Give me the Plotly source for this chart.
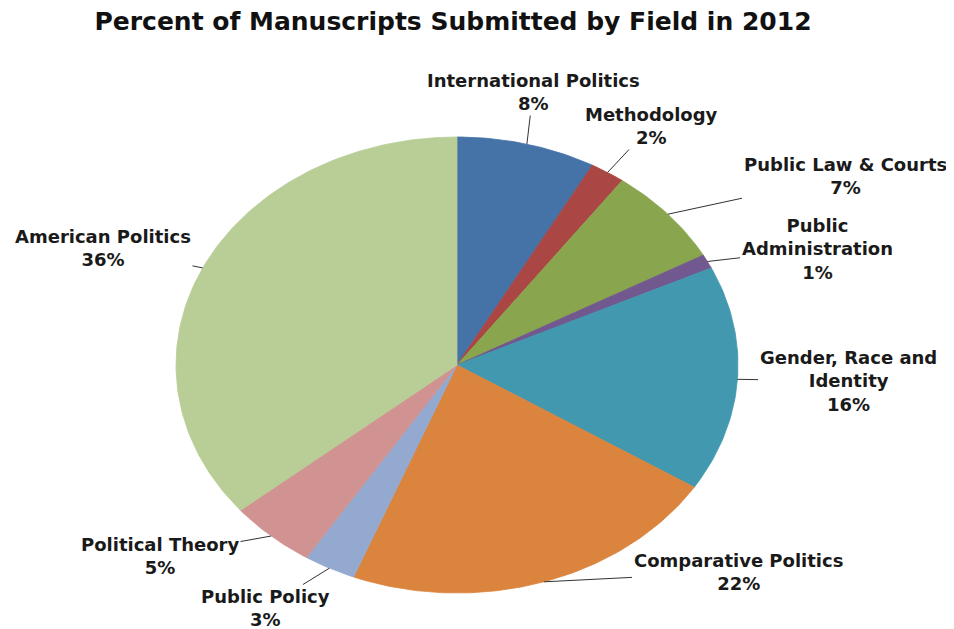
import numpy as np
import plotly.graph_objects as go

# ---- data ----
fields = ["International Politics", "Methodology", "Public Law & Courts",
          "Public Administration", "Gender, Race and Identity",
          "Comparative Politics", "Public Policy", "Political Theory",
          "American Politics"]
percents = [8, 2, 7, 1, 16, 22, 3, 5, 36]

# ---- style / layout ----
colors = ["#4572A7", "#AA4643", "#89A54E", "#71588F", "#4198AF",
          "#DB843D", "#93A9CF", "#D19392", "#B9CD96"]
wrapped = {"Public Administration": "Public<br>Administration",
           "Gender, Race and Identity": "Gender, Race and<br>Identity"}
# label text-block centres in page pixels
label_pos = [(533, 92), (651, 126), (845, 176), (817, 249), (848, 381),
             (738, 572), (265, 608), (160, 556), (103, 248)]

W, H = 954, 629
OFF = 8  # page body margin offset
CX, CY, RX, RY = 457 - OFF, 365 - OFF, 281, 228  # ellipse centre & radii


def px2d(px, py):
    return (px - OFF - CX) / RX, (CY - (py - OFF)) / RY


fig = go.Figure()
total = float(sum(percents))
cum = 0.0
annotations = []
for name, v, col, (lx, ly) in zip(fields, percents, colors, label_pos):
    a0 = cum / total * 2 * np.pi
    a1 = (cum + v) / total * 2 * np.pi
    cum += v
    t = np.linspace(a0, a1, max(int(v * 4), 6))
    xs = np.concatenate([[0], np.sin(t), [0]])
    ys = np.concatenate([[0], np.cos(t), [0]])
    fig.add_trace(go.Scatter(
        x=xs, y=ys, mode="lines", fill="toself", fillcolor=col,
        line=dict(color=col, width=0.8), hoveron="fills",
        name=name, text=f"{name}: {v}%", hoverinfo="text"))
    mid = (a0 + a1) / 2
    ax, ay = px2d(lx, ly)
    annotations.append(dict(
        x=float(np.sin(mid)), y=float(np.cos(mid)), xref="x", yref="y",
        ax=ax, ay=ay, axref="x", ayref="y",
        text=f"{wrapped.get(name, name)}<br>{v}%",
        showarrow=True, arrowhead=0, arrowwidth=1, arrowcolor="#333333",
        standoff=0, align="center",
        font=dict(family="DejaVu Sans", size=18, color="#1a1a1a",
                  weight="bold")))

fig.update_layout(
    width=W, height=H,
    margin=dict(l=0, r=0, t=0, b=0),
    paper_bgcolor="white", plot_bgcolor="white",
    showlegend=False,
    title=dict(text="Percent of Manuscripts Submitted by Field in 2012",
               x=(453 - OFF) / W, xanchor="center", y=1 - (21 - OFF) / H,
               yanchor="middle", yref="container",
               font=dict(family="DejaVu Sans", size=25, color="#111111",
                         weight="bold")),
    xaxis=dict(range=[(0 - CX) / RX, (W - CX) / RX], visible=False,
               fixedrange=True, domain=[0, 1]),
    yaxis=dict(range=[(CY - H) / RY, CY / RY], visible=False,
               fixedrange=True, domain=[0, 1]),
    annotations=annotations,
)

fig.write_html("out.html")
